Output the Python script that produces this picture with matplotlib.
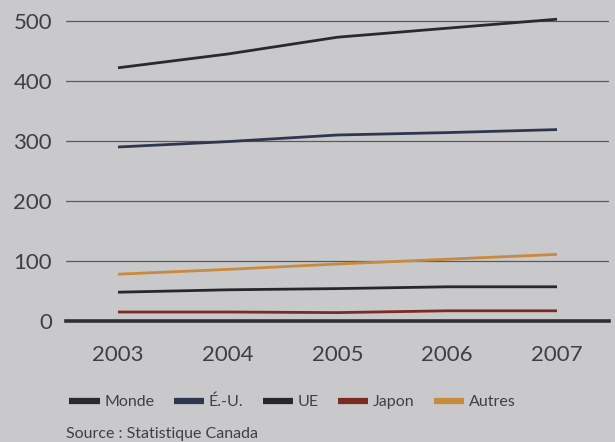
import matplotlib
matplotlib.use("Agg")
import matplotlib.pyplot as plt

years = [2003, 2004, 2005, 2006, 2007]
monde = [422, 445, 473, 488, 503]
eu = [290, 299, 310, 314, 319]
ue = [48, 52, 54, 57, 57]
japon = [15, 15, 14, 17, 17]
autres = [78, 86, 95, 103, 111]
yticks = [0, 100, 200, 300, 400, 500]

series = [
    ("Monde", monde, "#2a2a2d"),
    ("É.-U.", eu, "#2f3650"),
    ("UE", ue, "#25292a"),
    ("Japon", japon, "#7a2c24"),
    ("Autres", autres, "#c88a3e"),
]

bg = "#c9c9cc"
txt = "#404042"
plt.rcParams['font.family'] = ['Lato', 'DejaVu Sans']

fig = plt.figure(figsize=(6.15, 4.42), dpi=100, facecolor=bg)
ax = fig.add_axes([66/615, 1-321/442, (609-66)/615, 312/442])
ax.set_facecolor(bg)

ax.set_xlim(2003 - 52/109.75, 2007 + 52/109.75)
ax.set_ylim(0, 520)

for y in yticks[1:]:
    ax.axhline(y, color="#5a5a5c", lw=0.9, zorder=1)
ax.axhline(0, color="#303032", lw=2.6, zorder=3, clip_on=False)

for name, vals, col in series:
    ax.plot(years, vals, color=col, lw=2.0, label=name, zorder=2,
            solid_capstyle='butt', clip_on=False)

for s in ax.spines.values():
    s.set_visible(False)
ax.set_yticks(yticks)
ax.set_yticklabels([str(v) for v in yticks])
ax.set_xticks(years)
ax.set_xticklabels([str(y) for y in years])
ax.tick_params(axis='both', length=0, labelsize=16, colors=txt)
ax.tick_params(axis='y', pad=10)
ax.tick_params(axis='x', pad=17)

handles, labels = ax.get_legend_handles_labels()
leg = fig.legend(handles, labels, loc='center left',
                 bbox_to_anchor=(55/615, 1-402/442), ncol=5, frameon=False,
                 handlelength=1.9, handletextpad=0.3, columnspacing=1.2,
                 fontsize=11.5, labelcolor=txt)
for lh in leg.get_lines():
    lh.set_linewidth(4.5)

fig.text(66/615, 1-434/442, "Source : Statistique Canada", fontsize=11.5,
         color=txt, va='center', ha='left')

fig.savefig("out.png", dpi=100, facecolor=bg)
